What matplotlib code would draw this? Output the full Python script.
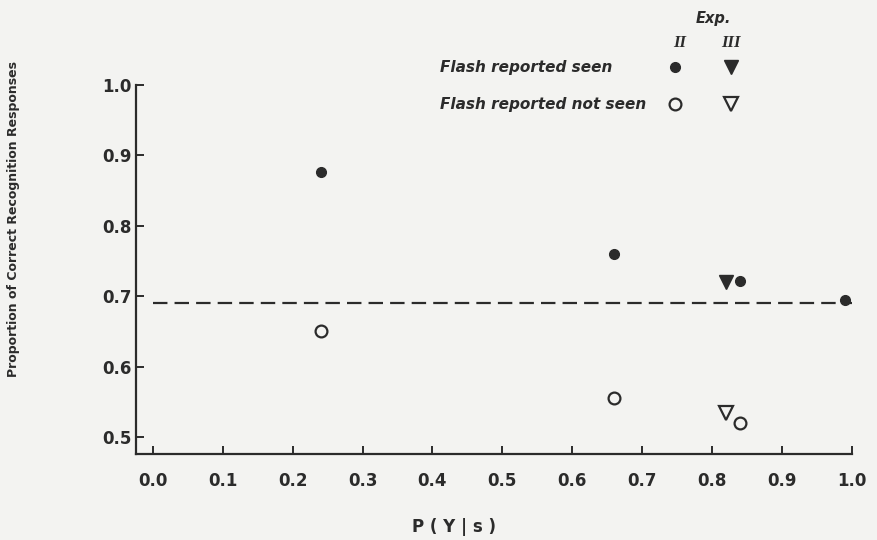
import matplotlib
matplotlib.use("Agg")
import matplotlib.pyplot as plt
from matplotlib.lines import Line2D

# values
p_seen_2 = [0.24, 0.66, 0.84, 0.99]
seen_2 = [0.876, 0.760, 0.722, 0.695]
p_notseen_2 = [0.24, 0.66, 0.84]
notseen_2 = [0.651, 0.555, 0.520]
p_exp_3 = [0.82]
seen_3 = [0.720]
notseen_3 = [0.534]
chance_x = [0.0, 1.0]
chance_y = [0.69, 0.69]

x_ticks = [0.0, 0.1, 0.2, 0.3, 0.4, 0.5, 0.6, 0.7, 0.8, 0.9, 1.0]
x_labels = ["0.0", "0.1", "0.2", "0.3", "0.4", "0.5", "0.6", "0.7", "0.8", "0.9", "1.0"]
y_ticks = [0.5, 0.6, 0.7, 0.8, 0.9, 1.0]
y_labels = ["0.5", "0.6", "0.7", "0.8", "0.9", "1.0"]

ink = "#2b2b2b"
paper = "#f3f3f1"

W, H = 877, 540
fig = plt.figure(figsize=(W / 100, H / 100), dpi=100, facecolor=paper)
ax = fig.add_axes([136 / W, (H - 454) / H, (852 - 136) / W, (454 - 85) / H])
ax.set_facecolor(paper)
ax.set_xlim(-0.024, 1.0)
ax.set_ylim(0.476, 1.0)

for side in ("top", "right"):
    ax.spines[side].set_visible(False)
for side in ("left", "bottom"):
    ax.spines[side].set_linewidth(1.6)
    ax.spines[side].set_color(ink)

ax.set_xticks(x_ticks)
ax.set_xticklabels(x_labels)
ax.set_yticks(y_ticks)
ax.set_yticklabels(y_labels)
ax.tick_params(direction="in", length=6, width=1.4, color=ink,
               labelcolor=ink, labelsize=12)
ax.tick_params(axis="x", pad=13)
ax.tick_params(axis="y", pad=3)
for lab in ax.get_xticklabels() + ax.get_yticklabels():
    lab.set_fontweight("bold")

# dashed reference line
ax.plot(chance_x, chance_y, color=ink, lw=1.6, dashes=(6.5, 3.2), clip_on=False, zorder=1)

# Exp. II
ax.plot(p_seen_2, seen_2, linestyle="none", marker="o", ms=7,
        color=ink, clip_on=False, zorder=3)
ax.plot(p_notseen_2, notseen_2, linestyle="none", marker="o", ms=8.5,
        mfc="none", mec=ink, mew=1.6, clip_on=False, zorder=3)
# Exp. III
ax.plot(p_exp_3, seen_3, linestyle="none", marker="v", ms=10,
        color=ink, clip_on=False, zorder=3)
ax.plot(p_exp_3, notseen_3, linestyle="none", marker="v", ms=9.5,
        mfc="none", mec=ink, mew=1.6, clip_on=False, zorder=3)

# legend laid out as a small table: text column, Exp. II column, Exp. III column
blank = Line2D([], [], linestyle="none")
k_seen_2 = Line2D([], [], linestyle="none", marker="o", ms=7, color=ink)
k_not_2 = Line2D([], [], linestyle="none", marker="o", ms=8.5, mfc="none", mec=ink, mew=1.6)
k_seen_3 = Line2D([], [], linestyle="none", marker="v", ms=10, color=ink)
k_not_3 = Line2D([], [], linestyle="none", marker="v", ms=9.5, mfc="none", mec=ink, mew=1.6)
leg = fig.legend(
    [blank, blank, k_seen_2, k_not_2, k_seen_3, k_not_3],
    ["Flash reported seen", "Flash reported not seen", "", "", "", ""],
    ncol=3, frameon=False, loc="upper left",
    bbox_to_anchor=(406 / W, 1 - 60 / H), bbox_transform=fig.transFigure,
    borderpad=0, borderaxespad=0, handlelength=0.8, handletextpad=1.4,
    columnspacing=1.5, labelspacing=1.45,
    prop={"size": 11, "weight": "bold", "style": "oblique"},
)
for t in leg.get_texts():
    t.set_color(ink)

serif = {"family": "Liberation Serif", "style": "italic", "weight": "bold"}
fig.text(713 / W, 1 - 18 / H, "Exp.", ha="center", va="center", color=ink,
         fontsize=10.5, fontweight="bold", fontstyle="oblique")
fig.text(680 / W, 1 - 43 / H, "II", ha="center", va="center", color=ink, fontsize=12, **serif)
fig.text(731 / W, 1 - 43 / H, "III", ha="center", va="center", color=ink, fontsize=12, **serif)

fig.text(454 / W, 1 - 527 / H, "P ( Y | s )", ha="center", va="center", color=ink,
         fontsize=12, fontweight="bold")
fig.text(14 / W, 1 - 219 / H, "Proportion of Correct Recognition Responses",
         rotation=90, ha="center", va="center", color=ink, fontsize=9, fontweight="bold")

fig.savefig("out.png", dpi=100, facecolor=paper)
